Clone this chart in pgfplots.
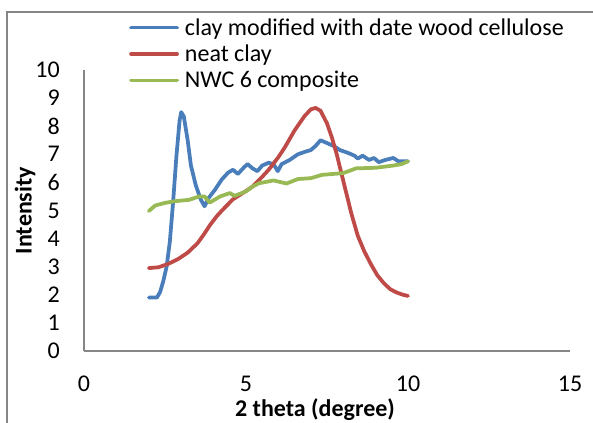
\documentclass[border=0pt]{standalone}
\usepackage{fontspec}
\setmainfont{Carlito}
\usepackage{pgfplots}
\pgfplotsset{compat=1.18}
\definecolor{sblue}{HTML}{4A7EBB}
\definecolor{sred}{HTML}{BE4B48}
\definecolor{sgreen}{HTML}{98B954}
\definecolor{axgray}{HTML}{868686}
\begin{document}
\fontsize{24bp}{28bp}\selectfont
\begin{tikzpicture}
\useasboundingbox (-84bp,-72bp) rectangle (509bp,351bp);
\draw[axgray, line width=1.3bp] (-77bp,-120bp) -- (-77bp,339bp) -- (620bp,339bp);
\begin{axis}[
  at={(0,0)}, anchor=south west,
  scale only axis, width=486bp, height=281bp,
  xmin=0, xmax=15, ymin=0, ymax=10,
  axis x line*=bottom, axis y line*=left,
  axis line style={draw=axgray, line width=1.4bp},
  xtick={0,5,10,15}, ytick={0,1,...,10},
  major tick length=0pt,
  /pgf/number format/assume math mode=true,
  tick label style={font=\fontsize{24bp}{28bp}\selectfont, inner sep=0pt},
  xticklabel style={anchor=center, yshift=-33bp},
  yticklabel style={anchor=east, xshift=-24bp},
  xlabel={\textbf{2 theta (degree)}},
  ylabel={\textbf{Intensity}},
  every axis x label/.style={at={(axis description cs:0.5,0)}, xshift=-12bp, yshift=-59bp, anchor=center, font=\fontsize{24bp}{28bp}\selectfont},
  every axis y label/.style={at={(axis description cs:0,0.5)}, xshift=-59bp, rotate=90, anchor=center, font=\fontsize{24bp}{28bp}\selectfont},
  legend image code/.code={
    \draw[#1, line cap=round] (2bp,7.6bp) -- (48bp,7.6bp);
    \path (0bp,0bp) (54bp,0bp);
  },
  legend cell align=left,
  legend style={at={(axis description cs:0,1)}, anchor=north west,
    xshift=43bp, yshift=53bp, draw=none, fill=none, inner sep=0pt,
    column sep=0pt, row sep=0.4bp,
    font=\fontsize{24bp}{28bp}\selectfont,
    nodes={inner sep=0pt, anchor=base west, text height=18bp, text depth=8bp}},
  every axis plot/.append style={line width=3.75bp, line join=round, line cap=round},
  clip=false,
]
\addplot[sblue] coordinates {
(2.0,1.9) (2.25,1.9) (2.35,2.1) (2.45,2.5) (2.55,3.0) (2.65,3.9) (2.75,5.3) (2.85,6.9) (2.95,8.2) (3.0,8.5) (3.08,8.35) (3.2,7.5) (3.3,6.6) (3.45,5.9) (3.6,5.4) (3.72,5.15) (3.85,5.45) (4.05,5.75) (4.25,6.1) (4.45,6.35) (4.6,6.45) (4.75,6.3) (4.95,6.55) (5.05,6.65) (5.2,6.5) (5.35,6.4) (5.5,6.6) (5.7,6.7) (5.85,6.65) (5.98,6.4) (6.1,6.65) (6.35,6.8) (6.6,7.0) (6.85,7.1) (7.0,7.15) (7.15,7.3) (7.3,7.5) (7.5,7.4) (7.7,7.3) (7.9,7.15) (8.15,7.05) (8.35,6.95) (8.45,6.85) (8.6,6.95) (8.8,6.8) (8.95,6.87) (9.1,6.72) (9.3,6.8) (9.55,6.87) (9.7,6.75) (10.0,6.75)
};
\addlegendentry{clay modified with date wood cellulose}
\addplot[sred] coordinates {
(2.0,2.95) (2.3,2.98) (2.6,3.1) (2.9,3.27) (3.2,3.5) (3.5,3.83) (3.7,4.15) (3.9,4.5) (4.1,4.8) (4.3,5.05) (4.6,5.4) (4.9,5.62) (5.2,5.85) (5.5,6.2) (5.7,6.45) (6.0,6.9) (6.2,7.25) (6.5,7.85) (6.8,8.35) (7.0,8.6) (7.15,8.65) (7.3,8.55) (7.5,8.1) (7.65,7.6) (7.8,7.0) (7.95,6.3) (8.1,5.6) (8.25,4.9) (8.45,4.1) (8.65,3.55) (8.85,3.1) (9.05,2.7) (9.25,2.42) (9.45,2.2) (9.65,2.08) (9.85,2.0) (10.0,1.96)
};
\addlegendentry{neat clay}
\addplot[sgreen] coordinates {
(2.0,4.98) (2.2,5.18) (2.5,5.27) (2.8,5.33) (3.25,5.38) (3.55,5.5) (3.72,5.5) (3.88,5.28) (4.2,5.5) (4.5,5.62) (4.65,5.52) (5.0,5.68) (5.2,5.85) (5.4,5.97) (5.85,6.07) (6.25,5.96) (6.6,6.12) (7.0,6.15) (7.35,6.27) (8.0,6.33) (8.4,6.5) (9.0,6.52) (9.55,6.6) (9.8,6.65) (10.0,6.75)
};
\addlegendentry{NWC 6 composite}
\end{axis}
\end{tikzpicture}
\end{document}
